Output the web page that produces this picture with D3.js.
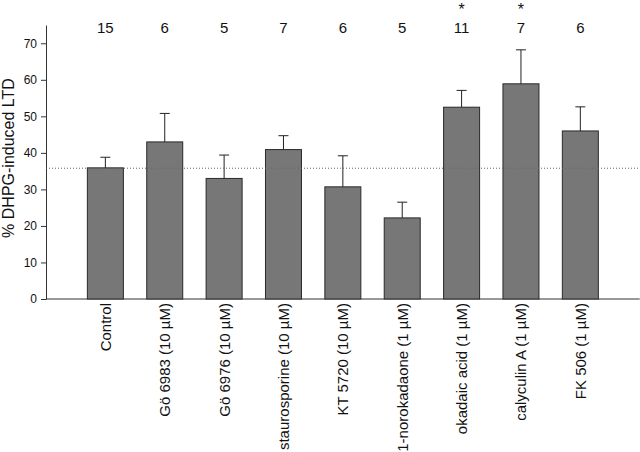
<!DOCTYPE html>
<html><head><meta charset="utf-8">
<script src="https://cdn.jsdelivr.net/npm/d3@7"></script>
<style>body{margin:0;background:#fff}svg{display:block}text{font-family:Arial,"Liberation Sans",sans-serif;fill:#111}</style>
</head><body><svg id="c" width="640" height="452"></svg>
<script>
const categories = ["Control","Gö 6983 (10 µM)","Gö 6976 (10 µM)","staurosporine (10 µM)","KT 5720 (10 µM)","1-norokadaone (1 µM)","okadaic acid (1 µM)","calyculin A (1 µM)","FK 506 (1 µM)"];
const means = [35.9, 43.0, 33.0, 40.9, 30.7, 22.2, 52.5, 58.9, 46.0];
const sems  = [2.9, 7.8, 6.4, 3.8, 8.5, 4.3, 4.6, 9.3, 6.6];
const nValues = ["15","6","5","7","6","5","11","7","6"];
const significant = [false,false,false,false,false,false,true,true,false];
const yTicks = [0,10,20,30,40,50,60,70];
const controlLine = 35.8;

const svg = d3.select("#c");
const x0 = 46, x1 = 639.7, yBase = 299, yTop = 25;
const y = d3.scaleLinear().domain([0,75]).range([yBase, yTop]);
const pi = 1 - 36/59.37;
const po = (10 - 9 + pi)/2;
const x = d3.scaleBand().domain(categories).range([x0, x1]).paddingInner(pi).paddingOuter(po);

// y axis
const yAxis = d3.axisLeft(y).tickValues(yTicks).tickSize(5).tickSizeOuter(0).tickPadding(4);
const ga = svg.append("g").attr("transform",`translate(${x0},0)`).call(yAxis);
ga.select(".domain").attr("stroke","#333");
ga.selectAll(".tick line").attr("stroke","#333");
ga.selectAll(".tick text").attr("font-size",12).attr("fill","#111");

// x axis baseline
svg.append("line").attr("x1",x0).attr("x2",x1).attr("y1",yBase).attr("y2",yBase).attr("stroke","#333");

// bars
svg.append("g").selectAll("rect").data(categories).join("rect")
  .attr("x",d=>x(d)).attr("width",x.bandwidth())
  .attr("y",(d,i)=>y(means[i])).attr("height",(d,i)=>yBase-y(means[i]))
  .attr("fill","#777777").attr("stroke","#2a2a2a").attr("stroke-width",1);

// error bars
const eg = svg.append("g").attr("stroke","#222").attr("stroke-width",1);
categories.forEach((c,i)=>{
  const cx = x(c)+x.bandwidth()/2;
  eg.append("line").attr("x1",cx).attr("x2",cx).attr("y1",y(means[i])).attr("y2",y(means[i]+sems[i]));
  eg.append("line").attr("x1",cx-5).attr("x2",cx+5).attr("y1",y(means[i]+sems[i])).attr("y2",y(means[i]+sems[i]));
});

// dotted reference line
svg.append("line").attr("x1",x0).attr("x2",640).attr("y1",y(controlLine)).attr("y2",y(controlLine))
  .attr("stroke","#666").attr("stroke-dasharray","1,2").attr("stroke-width",1);

// n values
svg.append("g").selectAll("text").data(categories).join("text")
  .attr("x",d=>x(d)+x.bandwidth()/2).attr("y",33).attr("text-anchor","middle").attr("font-size",15)
  .text((d,i)=>nValues[i]);
svg.append("g").selectAll("text").data(categories.filter((d,i)=>significant[i])).join("text")
  .attr("x",d=>x(d)+x.bandwidth()/2).attr("y",15).attr("text-anchor","middle").attr("font-size",16)
  .text("*");

// category labels
svg.append("g").selectAll("text").data(categories).join("text")
  .attr("transform",d=>`translate(${x(d)+x.bandwidth()/2+5.5},303) rotate(-90)`)
  .attr("text-anchor","end").attr("font-size",15).text(d=>d);

// y title
svg.append("text").attr("transform","translate(14,158) rotate(-90)").attr("text-anchor","middle")
  .attr("font-size",16).text("% DHPG-induced LTD");
</script></body></html>
